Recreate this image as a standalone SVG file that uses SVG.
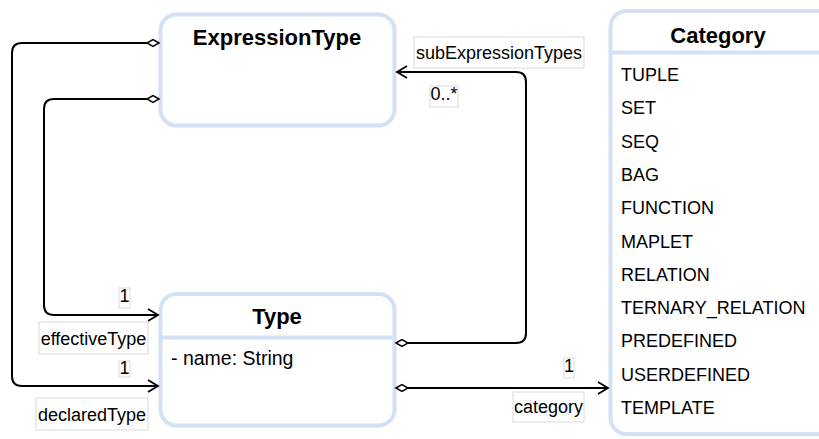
<svg xmlns="http://www.w3.org/2000/svg" width="819" height="439" viewBox="0 0 819 439">
<defs>
<style>
.box{fill:#fff;stroke:#d4e1f5;stroke-width:4}
.sep{stroke:#d4e1f5;stroke-width:4}
.title{font-family:"Liberation Sans",Arial,sans-serif;font-weight:bold;font-size:22px;fill:#000;text-anchor:middle}
.item{font-family:"Liberation Sans",Arial,sans-serif;font-size:18px;fill:#000}
.lbl{font-family:"Liberation Sans",Arial,sans-serif;font-size:18px;fill:#000;text-anchor:middle}
.lblbox{fill:#fff;stroke:#d9d9d9;stroke-width:1}
.edge{fill:none;stroke:#000;stroke-width:2}
.dia{fill:#fff;stroke:#000;stroke-width:1.5}
</style>
<marker id="open" markerWidth="14" markerHeight="14" refX="11" refY="7" orient="auto" markerUnits="userSpaceOnUse">
<path d="M1,1 L11,7 L1,13" fill="none" stroke="#000" stroke-width="1.8"/>
</marker>
</defs>
<rect width="819" height="439" fill="#fff"/>

<g id="ExpressionType">
<rect class="box" x="160.5" y="14.5" width="234" height="111" rx="16"/>
<text class="title" x="277" y="45">ExpressionType</text>
</g>

<g id="Type">
<rect class="box" x="160.5" y="294" width="234" height="131.5" rx="16"/>
<line class="sep" x1="160.5" y1="337.5" x2="394.5" y2="337.5"/>
<text class="title" x="277" y="324">Type</text>
<text class="item" x="171" y="365" style="font-size:19.5px">- name: String</text>
</g>

<g id="Category">
<rect class="box" x="610.5" y="11" width="230" height="423" rx="16"/>
<line class="sep" x1="610.5" y1="52.5" x2="819" y2="52.5"/>
<text class="title" x="718" y="43">Category</text>
<text class="item" x="621" y="81">TUPLE</text>
<text class="item" x="621" y="114.3">SET</text>
<text class="item" x="621" y="147.6">SEQ</text>
<text class="item" x="621" y="180.9">BAG</text>
<text class="item" x="621" y="214.2">FUNCTION</text>
<text class="item" x="621" y="247.5">MAPLET</text>
<text class="item" x="621" y="280.8">RELATION</text>
<text class="item" x="621" y="314.1">TERNARY_RELATION</text>
<text class="item" x="621" y="347.4">PREDEFINED</text>
<text class="item" x="621" y="380.7">USERDEFINED</text>
<text class="item" x="621" y="414">TEMPLATE</text>
</g>

<g id="connectors">
<path class="edge" d="M147,43 H22 Q12,43 12,53 V376 Q12,386 22,386 H158" marker-end="url(#open)"/>
<path class="dia" d="M159,43 L153,39.5 L147,43 L153,46.5 Z"/>
<path class="edge" d="M147,99 H54 Q44,99 44,109 V305 Q44,315 54,315 H158" marker-end="url(#open)"/>
<path class="dia" d="M159,99 L153,95.5 L147,99 L153,102.5 Z"/>
<path class="edge" d="M408,343 H516 Q526,343 526,333 V82 Q526,72 516,72 H397" marker-end="url(#open)"/>
<path class="dia" d="M396,343 L402,339.5 L408,343 L402,346.5 Z"/>
<path class="edge" d="M408,388 H608" marker-end="url(#open)"/>
<path class="dia" d="M396,388 L402,384.5 L408,388 L402,391.5 Z"/>

<rect class="lblbox" x="119" y="288" width="11" height="20"/>
<text class="lbl" x="124.5" y="302">1</text>
<rect class="lblbox" x="39" y="322" width="109" height="32"/>
<text class="lbl" x="93.5" y="345">effectiveType</text>
<rect class="lblbox" x="119" y="361" width="11" height="16"/>
<text class="lbl" x="124.5" y="374">1</text>
<rect class="lblbox" x="36" y="398" width="112" height="32"/>
<text class="lbl" x="92" y="421">declaredType</text>
<rect class="lblbox" x="414" y="37" width="170" height="31"/>
<text class="lbl" x="499" y="59">subExpressionTypes</text>
<rect class="lblbox" x="430" y="86" width="28" height="21"/>
<text class="lbl" x="444" y="100">0..*</text>
<rect class="lblbox" x="564" y="358" width="10" height="20"/>
<text class="lbl" x="569" y="372">1</text>
<rect class="lblbox" x="513" y="392" width="71" height="30"/>
<text class="lbl" x="548.5" y="413">category</text>
</g>
</svg>
